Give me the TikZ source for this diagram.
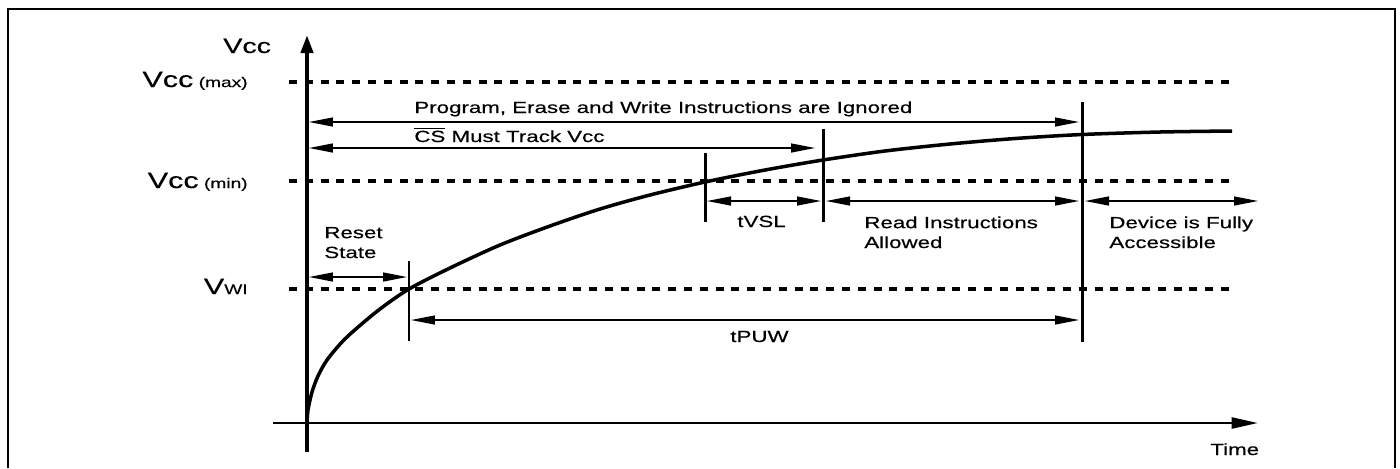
\documentclass[tikz,border=0pt]{standalone}
\usepackage{fontspec}
\setmainfont[FakeStretch=1.38,FakeBold=0.4]{Liberation Sans}
\usetikzlibrary{arrows.meta}
\tikzset{
  lbl/.style={inner sep=0pt, anchor=base west, font=\fontsize{9.2}{11.3}\selectfont},
  vlbl/.style={inner sep=0pt, anchor=base east},
  dim/.style={line width=0.75pt, {Triangle[length=0.48cm,width=0.18cm]}-{Triangle[length=0.48cm,width=0.18cm]}},
  level/.style={line width=2pt, dash pattern=on 0.16cm off 0.156cm},
  marker/.style={line width=1.7pt}
}
\newcommand{\bigV}{\fontsize{12.6}{14}\selectfont}
\newcommand{\smallV}{\fontsize{7.9}{9}\selectfont}
\begin{document}
\begin{tikzpicture}[x=0.02cm, y=-0.02cm]
	\useasboundingbox (0,0) rectangle (1400,468);
	\draw[line width=0.85pt] (8,468) -- (8,9) -- (1395,9) -- (1395,468);

	% levels
	\draw[level] (289,82) -- (1232,82);
	\draw[level] (289,181) -- (1232,181);
	\draw[level] (289,289) -- (1232,289);
	\node[vlbl] (vmax) at (248,87) {\bigV Vcc\smallV{} (max)};
	\node[vlbl] (vmin) at (248,188) {\bigV Vcc\smallV{} (min)};
	\node[vlbl] (vwi) at (248,294) {\bigV V\smallV WI};

	% axes
	\draw[line width=1.5pt, -{Triangle[length=0.53cm,width=0.22cm]}] (273,423) -- (1258,423);
	\draw[line width=2.3pt, -{Triangle[length=0.36cm,width=0.24cm]}] (307,452) -- (307,35);
	\node[inner sep=0pt, anchor=base west, font=\fontsize{11.8}{13}\selectfont] (vcc) at (223,53) {Vcc};
	\node[lbl] (time) at (1210,455) {Time};

	% supply ramp
	\draw[line width=2pt] plot[smooth] coordinates {(307,423) (308,410) (312,392) (318,376) (327,360)
		(342,342) (357,328) (380,309) (409,289) (450,268) (500,245) (550,226) (600,209) (650,195)
		(705,182) (765,170) (823,160) (885,151) (950,144) (1015,138.5) (1082,134.5) (1160,132) (1232,131)};

	% markers
	\coordinate (mwi) at (409,289);
	\coordinate (mvsl) at (705,181);
	\coordinate (mrd) at (823,160);
	\coordinate (mpuw) at (1082,134);
	\draw[marker] (409,261) -- (409,341);
	\draw[marker] (705,153) -- (705,222);
	\draw[marker] (823,129) -- (823,222);
	\draw[marker] (1082,102) -- (1082,342);

	% intervals
	\draw[dim] (309,122) -- (1079,122);
	\node[lbl] (ign) at (414,113) {Program, Erase and Write Instructions are Ignored};
	\draw[dim] (309,148) -- (815,148);
	\node[lbl] (cs) at (414,142) {$\overline{\mbox{CS}}$ Must Track Vcc};
	\draw[dim] (309,277) -- (407,277);
	\node[lbl, align=left] (rst) at (324,258) {Reset\\State};
	\draw[dim] (707,201) -- (821,201);
	\node[lbl] (tvsl) at (737,227) {tVSL};
	\draw[dim] (826,201) -- (1079,201);
	\node[lbl, align=left] (rd) at (864,248) {Read Instructions\\Allowed};
	\draw[dim] (1085,201) -- (1258,201);
	\node[lbl, align=left] (acc) at (1109,248) {Device is Fully\\Accessible};
	\draw[dim] (411,320) -- (1079,320);
	\node[lbl] (tpuw) at (730,342) {tPUW};
\end{tikzpicture}
\end{document}
